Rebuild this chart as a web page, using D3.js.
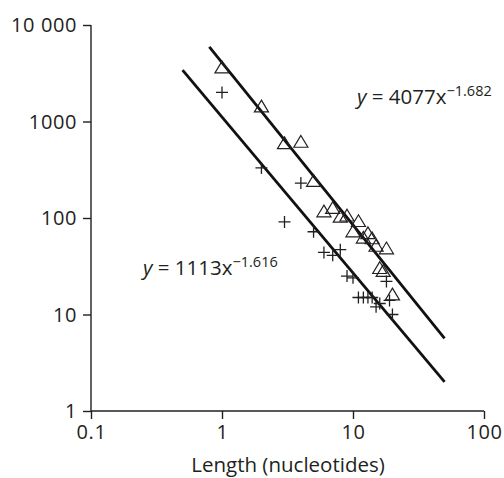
<!DOCTYPE html>
<html>
<head>
<meta charset="utf-8">
<script src="https://cdn.jsdelivr.net/npm/d3@7"></script>
<style>
  html, body { margin: 0; padding: 0; background: #fff; }
  svg { display: block; }
  text { font-family: "Open Sans", "Noto Sans", sans-serif; fill: #231f20; }
</style>
</head>
<body>
<svg id="chart" width="504" height="478"></svg>
<script>
// ---- data ----
const triangleX = [1, 2, 3, 4, 5, 6, 7, 8, 9, 10, 11, 12, 13, 14, 15, 16, 17, 18, 20];
const triangleY = [3600, 1420, 590, 610, 240, 116, 126, 102, 105, 72, 92, 62, 69, 61, 51, 30, 28, 48, 16];
const plusX = [1, 2, 3, 4, 5, 6, 7, 8, 9, 10, 11, 12, 13, 14, 15, 16, 18, 19, 20];
const plusY = [2000, 330, 91, 230, 72, 44, 41, 47, 25, 24, 15, 15, 15, 15, 12, 13, 22, 14, 10];
const fitCoef = [4077, 1113];
const fitExp = [-1.682, -1.616];
const fitFrom = [0.8, 0.5];
const fitTo = [50, 50];
const xTicks = [0.1, 1, 10, 100];
const yTicks = [1, 10, 100, 1000, 10000];
const yTickLabels = ["1", "10", "100", "1000", "10 000"];
const xTitle = "Length (nucleotides)";

// ---- layout ----
const svg = d3.select("#chart");
const x = d3.scaleLog().domain([0.1, 100]).range([91, 484]);
const y = d3.scaleLog().domain([1, 10000]).range([411, 25]);
const ink = "#231f20";

// axes
const xAxis = d3.axisBottom(x).tickValues(xTicks).tickSize(8).tickPadding(6)
  .tickFormat(d => String(d));
const yAxis = d3.axisLeft(y).tickValues(yTicks).tickSize(8).tickPadding(6)
  .tickFormat((d, i) => yTickLabels[i]);

const gx = svg.append("g").attr("transform", "translate(0,411)").call(xAxis);
const gy = svg.append("g").attr("transform", "translate(91,0)").call(yAxis);
[gx, gy].forEach(g => {
  g.select(".domain").attr("stroke", ink).attr("stroke-width", 1.4);
  g.selectAll(".tick line").attr("stroke", ink).attr("stroke-width", 1.4);
  g.selectAll(".tick text").style("font-size", "20px").style("letter-spacing", "0.6px").attr("fill", ink);
});
gx.select(".domain").attr("d", `M${x(0.1)},0H${x(100)}`);
gy.select(".domain").attr("d", `M0,${y(10000)}V${y(1)}`);
gy.selectAll(".tick text").attr("dy", "0.34em");

// fit lines
const fits = fitCoef.map((c, i) => ({c, e: fitExp[i], a: fitFrom[i], b: fitTo[i]}));
svg.selectAll("line.fit").data(fits).enter().append("line")
  .attr("class", "fit")
  .attr("x1", d => x(d.a)).attr("y1", d => y(d.c * Math.pow(d.a, d.e)))
  .attr("x2", d => x(d.b)).attr("y2", d => y(d.c * Math.pow(d.b, d.e)))
  .attr("stroke", "#111").attr("stroke-width", 2.8);

// triangles
const tri = triangleX.map((v, i) => [v, triangleY[i]]);
const s = 6.7;
svg.selectAll("path.tri").data(tri).enter().append("path")
  .attr("class", "tri")
  .attr("d", d => {
    const cx = x(d[0]), cy = y(d[1]);
    return `M${cx},${cy - s}L${cx + s * 1.05},${cy + s * 0.75}L${cx - s * 1.05},${cy + s * 0.75}Z`;
  })
  .attr("fill", "none").attr("stroke", ink).attr("stroke-width", 1.2);

// plus signs
const pl = plusX.map((v, i) => [v, plusY[i]]);
const p = 6;
svg.selectAll("path.plus").data(pl).enter().append("path")
  .attr("class", "plus")
  .attr("d", d => {
    const cx = x(d[0]), cy = y(d[1]);
    return `M${cx - p},${cy}H${cx + p}M${cx},${cy - p}V${cy + p}`;
  })
  .attr("fill", "none").attr("stroke", ink).attr("stroke-width", 1.3);

// equation labels
function eq(xp, yp, coef, exp) {
  const t = svg.append("text").attr("x", xp).attr("y", yp).style("font-size", "20.5px");
  t.append("tspan").style("font-style", "italic").text("y");
  t.append("tspan").text(" = " + coef + "x");
  t.append("tspan").attr("dy", -8).style("font-size", "14.5px").text("\u2212" + Math.abs(exp));
}
eq(357, 104, fitCoef[0], fitExp[0]);
eq(143, 275, fitCoef[1], fitExp[1]);

// axis title
svg.append("text").attr("x", 288).attr("y", 472).attr("text-anchor", "middle")
  .style("font-size", "20.5px").text(xTitle);
</script>
</body>
</html>
